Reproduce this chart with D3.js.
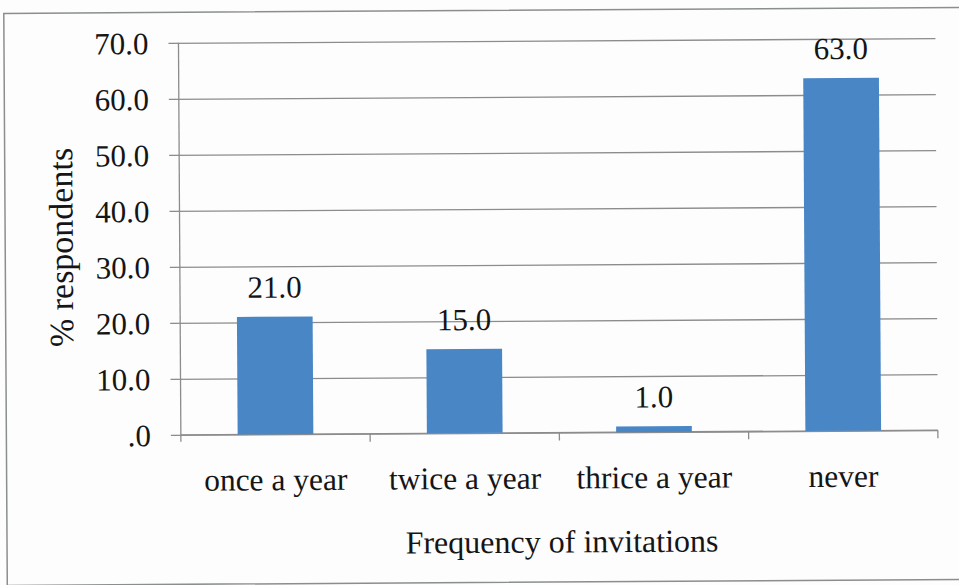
<!DOCTYPE html>
<html>
<head>
<meta charset="utf-8">
<script src="https://cdn.jsdelivr.net/npm/d3@7/dist/d3.min.js"></script>
<style>
  html, body { margin: 0; padding: 0; background: #fff; }
  svg text { font-family: "Liberation Serif", "Times New Roman", serif; fill: #151515; }
</style>
</head>
<body>
<svg id="chart" width="959" height="585"></svg>
<script>
// Survey results: how often respondents were invited
const categories = ["once a year", "twice a year", "thrice a year", "never"];
const percentages = [21.0, 15.0, 1.0, 63.0];
const yTicks = [0, 10, 20, 30, 40, 50, 60, 70];
const yTitle = "% respondents";
const xTitle = "Frequency of invitations";

const W = 959, H = 585;
const margin = { top: 41, right: 22, bottom: 152, left: 180 };
const innerW = W - margin.left - margin.right;
const innerH = H - margin.top - margin.bottom;

const svg = d3.select("#chart");
svg.append("rect").attr("width", W).attr("height", H).attr("fill", "#fdfdfd");

const root = svg.append("g")
  .attr("transform", `rotate(-0.35, ${W / 2}, ${H / 2})`);

// outer frame of the chart area
root.append("rect")
  .attr("x", 5.5).attr("y", 10.5).attr("width", 965).attr("height", 572)
  .attr("fill", "none").attr("stroke", "#8a8f8c").attr("stroke-width", 1.5);

const g = root.append("g").attr("transform", `translate(${margin.left},${margin.top})`);

const x = d3.scaleBand().domain(categories).range([0, innerW])
  .paddingInner(0.6).paddingOuter(0.3);
const y = d3.scaleLinear().domain([0, 70]).range([innerH, 0]);

const fmt = v => v === 0 ? ".0" : d3.format(".1f")(v);

// horizontal gridlines with left tick stubs
const yAxis = d3.axisLeft(y).tickValues(yTicks).tickFormat(fmt)
  .tickSize(-innerW).tickSizeOuter(0).tickPadding(30);
const yg = g.append("g").call(yAxis).attr("font-family", null).attr("font-size", null);
yg.select(".domain").remove();
yg.selectAll(".tick line")
  .attr("x1", -10).attr("stroke", "#8c8c8c").attr("stroke-width", 1.3);
yg.selectAll(".tick text").attr("font-size", 31).attr("fill", "#151515").attr("dy", "0.34em");

// vertical axis line
g.append("line").attr("x1", 0).attr("x2", 0).attr("y1", 0).attr("y2", innerH + 7)
  .attr("stroke", "#8c8c8c").attr("stroke-width", 1.3);

// category axis: ticks at band boundaries
const boundaries = d3.range(categories.length + 1).map(i => i * innerW / categories.length);
const xg = g.append("g").attr("transform", `translate(0,${innerH})`);
xg.append("line").attr("x1", 0).attr("x2", innerW)
  .attr("stroke", "#8c8c8c").attr("stroke-width", 1.3);
xg.selectAll("line.tk").data(boundaries.slice(1)).join("line").attr("class", "tk")
  .attr("x1", d => d).attr("x2", d => d).attr("y1", 0).attr("y2", 8)
  .attr("stroke", "#8c8c8c").attr("stroke-width", 1.3);
xg.selectAll("text.cat").data(categories).join("text").attr("class", "cat")
  .attr("x", d => x(d) + x.bandwidth() / 2).attr("y", 56)
  .attr("text-anchor", "middle").attr("font-size", 31.5).text(d => d);

// bars
const data = categories.map((c, i) => ({ c, v: percentages[i] }));
g.selectAll("rect.bar").data(data).join("rect").attr("class", "bar")
  .attr("x", d => x(d.c)).attr("width", x.bandwidth())
  .attr("y", d => y(d.v)).attr("height", d => innerH - y(d.v))
  .attr("fill", "#4886c6");

// value labels
g.selectAll("text.val").data(data).join("text").attr("class", "val")
  .attr("x", d => x(d.c) + x.bandwidth() / 2).attr("y", d => y(d.v) - 19)
  .attr("text-anchor", "middle").attr("font-size", 31).text(d => d3.format(".1f")(d.v));

// axis titles
root.append("text").attr("transform", "translate(73,245) rotate(-90)")
  .attr("text-anchor", "middle").attr("font-size", 34).text(yTitle);
root.append("text").attr("x", margin.left + innerW / 2 + 2).attr("y", 553)
  .attr("text-anchor", "middle").attr("font-size", 32).text(xTitle);
</script>
</body>
</html>
